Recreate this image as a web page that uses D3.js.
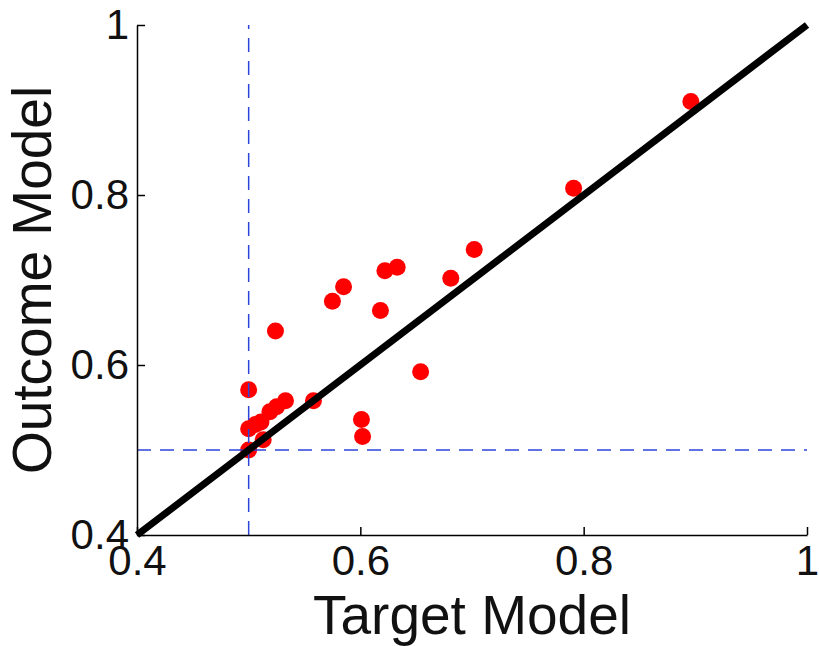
<!DOCTYPE html>
<html>
<head>
<meta charset="utf-8">
<script src="https://cdn.jsdelivr.net/npm/d3@7"></script>
<style>
  body { margin: 0; background: #fff; }
  svg { display: block; font-family: "Liberation Sans", Arial, Helvetica, sans-serif; }
</style>
</head>
<body>
<script>
// values
const targetModel = [0.896, 0.791, 0.702, 0.681, 0.633, 0.622, 0.618, 0.585, 0.575, 0.654,
  0.601, 0.602, 0.558, 0.524, 0.500, 0.533, 0.525, 0.519, 0.511, 0.506, 0.500, 0.513, 0.500];
const outcomeModel = [0.910, 0.808, 0.736, 0.702, 0.715, 0.711, 0.664, 0.692, 0.675, 0.592,
  0.536, 0.516, 0.558, 0.640, 0.571, 0.558, 0.551, 0.545, 0.533, 0.530, 0.525, 0.512, 0.500];
const tickValues = [0.4, 0.6, 0.8, 1];
const tickLabels = ['0.4', '0.6', '0.8', '1'];
const chance = 0.5;

const width = 819;
const height = 646;
const margin = { top: 25, right: 12, bottom: 111, left: 137 };
const w = width - margin.left - margin.right;
const h = height - margin.top - margin.bottom;

const x = d3.scaleLinear().domain([0.4, 1]).range([0, w]);
const y = d3.scaleLinear().domain([0.4, 1]).range([h, 0]);

const svg = d3.select('body').append('svg')
  .attr('width', width)
  .attr('height', height);

const g = svg.append('g')
  .attr('transform', `translate(${margin.left},${margin.top})`);

// scatter points
const points = targetModel.map((t, i) => ({ t: t, o: outcomeModel[i] }));
g.selectAll('.dot')
  .data(points)
  .enter()
  .append('circle')
  .attr('class', 'dot')
  .attr('cx', d => x(d.t))
  .attr('cy', d => y(d.o))
  .attr('r', 8.5)
  .attr('fill', '#ff0000');

// dashed chance lines
g.append('line')
  .attr('x1', x(chance)).attr('x2', x(chance))
  .attr('y1', y(0.4)).attr('y2', y(1))
  .attr('stroke', '#2c44dc')
  .attr('stroke-width', 1.5)
  .attr('stroke-dasharray', '14,9');
g.append('line')
  .attr('x1', x(0.4)).attr('x2', x(1))
  .attr('y1', y(chance)).attr('y2', y(chance))
  .attr('stroke', '#2c44dc')
  .attr('stroke-width', 1.5)
  .attr('stroke-dasharray', '14,9');

// identity line
g.append('path')
  .datum([0.4, 1])
  .attr('d', d3.line().x(d => x(d)).y(d => y(d)))
  .attr('stroke', '#000')
  .attr('stroke-width', 7)
  .attr('fill', 'none');

// axes, ticks pointing inward
const fmt = d => tickLabels[tickValues.indexOf(d)];
const xAxis = g.append('g')
  .attr('transform', `translate(0,${h})`)
  .call(d3.axisBottom(x).tickValues(tickValues).tickFormat(fmt).tickSizeInner(-8).tickSizeOuter(0).tickPadding(12));
const yAxis = g.append('g')
  .call(d3.axisLeft(y).tickValues(tickValues).tickFormat(fmt).tickSizeInner(-8).tickSizeOuter(0).tickPadding(10));

[xAxis, yAxis].forEach(a => {
  a.select('.domain').attr('stroke', '#000').attr('stroke-width', 1.5);
  a.selectAll('.tick line').attr('stroke', '#000').attr('stroke-width', 1.5);
  a.selectAll('.tick text')
    .attr('fill', '#111')
    .style('font-size', '42px')
    .style('font-family', '"Liberation Sans", Arial, Helvetica, sans-serif');
});
xAxis.selectAll('.tick text').attr('y', 10).attr('dy', '0.71em');
yAxis.selectAll('.tick text').attr('x', -8);

// axis titles
svg.append('text')
  .attr('x', margin.left + w / 2)
  .attr('y', 634)
  .attr('text-anchor', 'middle')
  .attr('fill', '#111')
  .style('font-size', '55px')
  .text('Target Model');

svg.append('text')
  .attr('transform', `translate(51,${margin.top + h / 2}) rotate(-90)`)
  .attr('text-anchor', 'middle')
  .attr('fill', '#111')
  .style('font-size', '55px')
  .text('Outcome Model');
</script>
</body>
</html>
